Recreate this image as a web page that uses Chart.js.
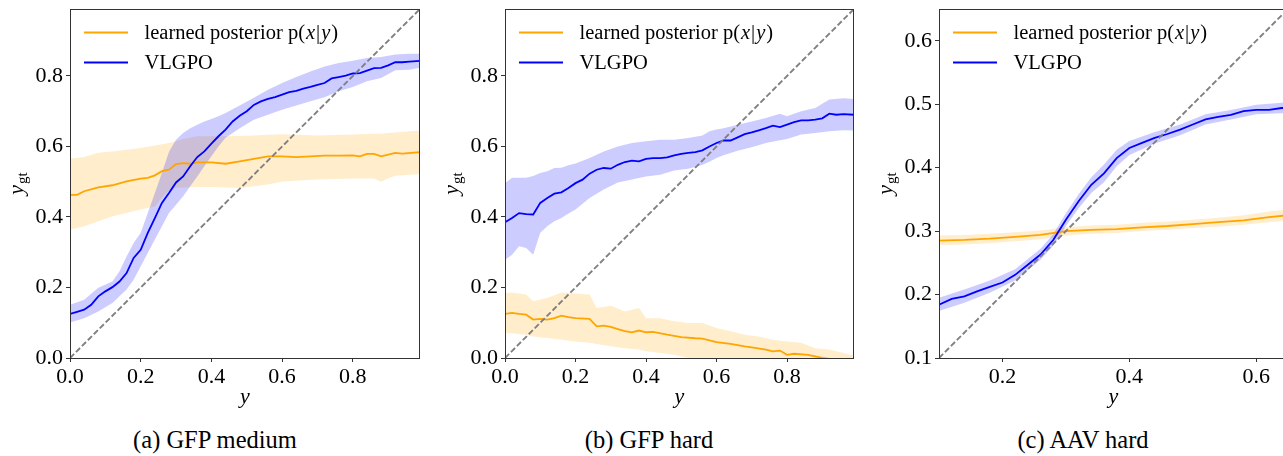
<!DOCTYPE html>
<html>
<head>
<meta charset="utf-8">
<script src="https://cdn.jsdelivr.net/npm/chart.js@4.4.1/dist/chart.umd.min.js"></script>
<style>
html,body{margin:0;padding:0;background:#fff;overflow:hidden;width:1283px;height:456px;}
.panel{position:absolute;top:0;}
.panel canvas{display:block;}
.cap{position:absolute;top:427px;height:26px;line-height:26px;font-family:'Liberation Serif','Times New Roman',serif;font-size:24.5px;color:#000;white-space:nowrap;transform:translateX(-50%);}
</style>
</head>
<body>
<div class="panel" style="left:0px"><canvas id="ca" width="430" height="420"></canvas></div>
<div class="panel" style="left:430px"><canvas id="cb" width="430" height="420"></canvas></div>
<div class="panel" style="left:860px"><canvas id="cc" width="440" height="420"></canvas></div>
<div class="cap" id="capA" style="left:215px"></div>
<div class="cap" id="capB" style="left:649px"></div>
<div class="cap" id="capC" style="left:1083px"></div>
<script>
// ---------------- captions / labels ----------------
const captions = ['(a) GFP medium', '(b) GFP hard', '(c) AAV hard'];
const xTitle = 'y';
const legendPosterior = [{t:'learned posterior p('},{t:'x',i:true,pre:1,post:1},{t:'|'},{t:'y',i:true,pre:1,post:1},{t:')'}];
const legendVlgpo = [{t:'VLGPO'}];

// ---------------- axis ranges & ticks ----------------
const rangeA = [0, 0.99];
const rangeB = [0, 0.99];
const rangeC = [0.1, 0.65];
const xTicksA = [0, 0.2, 0.4, 0.6, 0.8];
const yTicksA = [0, 0.2, 0.4, 0.6, 0.8];
const xTicksB = [0, 0.2, 0.4, 0.6, 0.8];
const yTicksB = [0, 0.2, 0.4, 0.6, 0.8];
const xTicksC = [0.2, 0.4, 0.6];
const yTicksC = [0.1, 0.2, 0.3, 0.4, 0.5, 0.6];

// ---------------- (a) GFP medium ----------------
const xA_vl = [0,0.02,0.04,0.06,0.08,0.1,0.12,0.14,0.16,0.18,0.2,0.22,0.24,0.26,0.28,0.3,0.32,0.34,0.36,0.38,0.4,0.42,0.44,0.46,0.48,0.5,0.52,0.54,0.56,0.58,0.6,0.62,0.64,0.66,0.68,0.7,0.72,0.74,0.76,0.78,0.8,0.82,0.84,0.86,0.88,0.9,0.92,0.94,0.96,0.99];
const yA_vl = [0.125,0.131,0.137,0.151,0.175,0.189,0.201,0.217,0.241,0.284,0.307,0.355,0.397,0.44,0.468,0.498,0.515,0.544,0.57,0.586,0.608,0.629,0.648,0.671,0.687,0.7,0.718,0.728,0.735,0.74,0.747,0.754,0.758,0.764,0.769,0.775,0.78,0.793,0.797,0.801,0.807,0.808,0.815,0.822,0.823,0.83,0.839,0.839,0.841,0.843];
const xA_vlBand = [0,0.04,0.08,0.12,0.14,0.16,0.18,0.2,0.22,0.24,0.26,0.28,0.3,0.32,0.34,0.36,0.38,0.4,0.42,0.44,0.48,0.52,0.56,0.6,0.64,0.68,0.72,0.76,0.8,0.84,0.88,0.92,0.96,0.99];
const yA_vlUp = [0.151,0.165,0.199,0.217,0.246,0.288,0.326,0.355,0.411,0.468,0.525,0.585,0.619,0.638,0.652,0.662,0.671,0.678,0.686,0.695,0.716,0.738,0.761,0.78,0.797,0.813,0.827,0.837,0.843,0.851,0.854,0.861,0.863,0.863];
const yA_vlLo = [0.101,0.113,0.132,0.156,0.175,0.194,0.222,0.26,0.298,0.336,0.374,0.411,0.435,0.459,0.487,0.515,0.544,0.572,0.6,0.625,0.652,0.676,0.69,0.704,0.716,0.728,0.74,0.757,0.769,0.785,0.794,0.816,0.818,0.823];
const xA_or = [0,0.02,0.04,0.08,0.12,0.16,0.2,0.22,0.24,0.26,0.28,0.3,0.32,0.34,0.36,0.4,0.44,0.48,0.52,0.56,0.6,0.64,0.68,0.72,0.76,0.8,0.82,0.84,0.86,0.88,0.92,0.94,0.99];
const yA_or = [0.463,0.463,0.473,0.484,0.49,0.501,0.509,0.511,0.518,0.53,0.534,0.55,0.553,0.551,0.555,0.555,0.551,0.558,0.565,0.572,0.572,0.57,0.572,0.574,0.574,0.575,0.572,0.579,0.579,0.572,0.582,0.58,0.584];
const xA_orBand = [0,0.04,0.08,0.12,0.2,0.24,0.26,0.28,0.3,0.32,0.36,0.4,0.44,0.48,0.52,0.56,0.6,0.7,0.8,0.86,0.88,0.9,0.92,0.99];
const yA_orUp = [0.565,0.57,0.582,0.586,0.596,0.603,0.606,0.61,0.615,0.621,0.629,0.629,0.629,0.63,0.631,0.633,0.635,0.631,0.634,0.636,0.636,0.638,0.64,0.645];
const yA_orLo = [0.364,0.374,0.388,0.402,0.421,0.43,0.455,0.475,0.484,0.484,0.485,0.485,0.484,0.482,0.487,0.492,0.501,0.506,0.509,0.509,0.5,0.51,0.517,0.522];

// ---------------- (b) GFP hard ----------------
const xB_vl = [0,0.02,0.04,0.06,0.08,0.1,0.12,0.14,0.16,0.18,0.2,0.22,0.24,0.26,0.28,0.3,0.32,0.34,0.36,0.38,0.4,0.42,0.44,0.46,0.48,0.5,0.52,0.54,0.56,0.58,0.6,0.62,0.64,0.66,0.68,0.7,0.72,0.74,0.76,0.78,0.8,0.82,0.84,0.86,0.88,0.9,0.92,0.94,0.96,0.99];
const yB_vl = [0.385,0.397,0.411,0.408,0.407,0.44,0.454,0.466,0.47,0.482,0.496,0.506,0.523,0.534,0.539,0.537,0.548,0.556,0.56,0.558,0.565,0.567,0.567,0.569,0.575,0.579,0.582,0.584,0.589,0.6,0.61,0.617,0.617,0.626,0.635,0.64,0.646,0.652,0.659,0.655,0.662,0.669,0.674,0.674,0.676,0.68,0.693,0.69,0.692,0.69];
const xB_vlBand = [0,0.02,0.04,0.06,0.08,0.1,0.12,0.14,0.16,0.18,0.2,0.24,0.28,0.32,0.36,0.4,0.44,0.48,0.52,0.56,0.58,0.6,0.62,0.66,0.7,0.74,0.78,0.8,0.84,0.88,0.92,0.96,0.99];
const yB_vlUp = [0.496,0.511,0.511,0.511,0.516,0.525,0.53,0.539,0.54,0.547,0.552,0.567,0.586,0.6,0.61,0.615,0.619,0.619,0.624,0.631,0.643,0.648,0.652,0.662,0.671,0.681,0.693,0.686,0.7,0.709,0.733,0.737,0.735];
const yB_vlLo = [0.279,0.293,0.317,0.312,0.293,0.355,0.374,0.388,0.397,0.41,0.421,0.454,0.478,0.498,0.506,0.515,0.52,0.532,0.537,0.548,0.557,0.567,0.575,0.588,0.598,0.61,0.618,0.621,0.634,0.638,0.643,0.646,0.645];
const xB_or = [0,0.02,0.04,0.06,0.08,0.1,0.12,0.14,0.16,0.18,0.2,0.24,0.26,0.28,0.3,0.32,0.34,0.36,0.38,0.4,0.42,0.46,0.5,0.54,0.56,0.6,0.64,0.68,0.7,0.74,0.76,0.78,0.8,0.82,0.86,0.9,0.94,0.99];
const yB_or = [0.125,0.128,0.125,0.123,0.109,0.111,0.109,0.113,0.12,0.116,0.113,0.111,0.09,0.092,0.088,0.082,0.076,0.073,0.078,0.073,0.074,0.066,0.059,0.056,0.055,0.045,0.04,0.033,0.03,0.024,0.019,0.021,0.009,0.012,0.009,0,-0.005,-0.01];
const xB_orBand = [0,0.02,0.06,0.08,0.12,0.16,0.2,0.24,0.26,0.3,0.34,0.38,0.4,0.44,0.48,0.52,0.56,0.6,0.64,0.68,0.72,0.76,0.8,0.84,0.88,0.92,0.96,0.99];
const yB_orUp = [0.184,0.186,0.18,0.161,0.17,0.186,0.183,0.18,0.142,0.148,0.132,0.142,0.113,0.113,0.104,0.099,0.099,0.085,0.076,0.066,0.061,0.052,0.047,0.043,0.028,0.024,0.014,0.007];
const yB_orLo = [0.071,0.07,0.066,0.061,0.057,0.052,0.047,0.043,0.04,0.033,0.028,0.024,0.019,0.014,0.009,0,-0.01,-0.02,-0.025,-0.03,-0.035,-0.04,-0.045,-0.05,-0.05,-0.05,-0.05,-0.05];

// ---------------- (c) AAV hard ----------------
const xC_vl = [0.1,0.12,0.14,0.16,0.18,0.2,0.22,0.24,0.26,0.28,0.3,0.32,0.34,0.36,0.38,0.4,0.42,0.44,0.46,0.48,0.5,0.52,0.54,0.56,0.58,0.6,0.62,0.64,0.65];
const yC_vl = [0.184,0.193,0.197,0.205,0.212,0.219,0.231,0.247,0.263,0.286,0.318,0.347,0.373,0.391,0.415,0.431,0.439,0.447,0.453,0.46,0.468,0.476,0.48,0.483,0.489,0.491,0.491,0.494,0.494];
const xC_vlBand = [0.1,0.14,0.18,0.22,0.26,0.28,0.3,0.32,0.34,0.36,0.38,0.4,0.44,0.48,0.52,0.56,0.6,0.65];
const yC_vlUp = [0.195,0.208,0.222,0.24,0.272,0.295,0.328,0.358,0.385,0.405,0.428,0.442,0.456,0.468,0.484,0.491,0.499,0.503];
const yC_vlLo = [0.174,0.187,0.203,0.222,0.255,0.277,0.308,0.336,0.36,0.377,0.402,0.42,0.438,0.451,0.468,0.476,0.484,0.486];
const xC_or = [0.1,0.14,0.18,0.22,0.26,0.3,0.34,0.38,0.42,0.46,0.5,0.54,0.58,0.62,0.65];
const yC_or = [0.285,0.286,0.288,0.291,0.294,0.3,0.302,0.303,0.306,0.308,0.311,0.314,0.317,0.322,0.325];
const xC_orBand = [0.1,0.14,0.18,0.22,0.26,0.3,0.34,0.38,0.42,0.46,0.5,0.54,0.58,0.62,0.65];
const yC_orUp = [0.293,0.294,0.296,0.298,0.301,0.306,0.309,0.31,0.313,0.315,0.318,0.321,0.325,0.331,0.334];
const yC_orLo = [0.278,0.279,0.281,0.284,0.287,0.293,0.296,0.297,0.3,0.302,0.305,0.307,0.31,0.314,0.317];

// ---------------- drawing ----------------
const FONT = "'Liberation Serif', 'Times New Roman', serif";
const ORANGE = '#ffa500', BLUE = '#0000ff';
function pts(xs, ys){ return xs.map((x, i) => ({x: x, y: ys[i]})); }

const framePlugin = {
  id: 'frame',
  afterDatasetsDraw(chart){
    const {ctx, chartArea: a} = chart;
    ctx.save();
    ctx.strokeStyle = '#333'; ctx.lineWidth = 1;
    ctx.strokeRect(Math.round(a.left) + 0.5, Math.round(a.top) + 0.5, Math.round(a.right - a.left) - 1, Math.round(a.bottom - a.top));
    ctx.restore();
  }
};
const legendPlugin = {
  id: 'mlegend',
  afterDraw(chart){
    const {ctx, chartArea: a} = chart;
    const rows = [{color: ORANGE, parts: legendPosterior}, {color: BLUE, parts: legendVlgpo}];
    ctx.save();
    rows.forEach((r, i) => {
      const yy = Math.round(a.top + 23) + 0.5 + i * 30;
      ctx.strokeStyle = r.color; ctx.lineWidth = 1.8;
      ctx.beginPath(); ctx.moveTo(a.left + 14, yy); ctx.lineTo(a.left + 58, yy); ctx.stroke();
      let x = a.left + 74.5;
      ctx.fillStyle = '#000'; ctx.textBaseline = 'middle'; ctx.textAlign = 'left';
      r.parts.forEach(p => {
        ctx.font = (p.i ? 'italic ' : '') + '20.5px ' + FONT;
        x += (p.pre || 0);
        ctx.fillText(p.t, x, yy + 1);
        x += ctx.measureText(p.t).width + (p.post || 0);
      });
    });
    ctx.restore();
  }
};
const yTitlePlugin = {
  id: 'ytitle',
  afterDraw(chart){
    const {ctx, chartArea: a} = chart;
    ctx.save();
    ctx.translate(a.left - 47, (a.top + a.bottom) / 2);
    ctx.rotate(-Math.PI / 2);
    ctx.fillStyle = '#000'; ctx.textBaseline = 'alphabetic'; ctx.textAlign = 'left';
    ctx.font = 'italic 22px ' + FONT; const w1 = ctx.measureText('y').width;
    ctx.font = '15px ' + FONT; const w2 = ctx.measureText('gt').width;
    const x0 = -(w1 + w2 + 1) / 2;
    ctx.font = 'italic 22px ' + FONT; ctx.fillText('y', x0, 0);
    ctx.font = '15px ' + FONT; ctx.fillText('gt', x0 + w1 + 1, 4);
    ctx.restore();
  }
};

function makePanel(id, p){
  const tickFont = {family: FONT, size: 22};
  const gridOpt = {display: true, drawOnChartArea: false, drawTicks: true, tickLength: 4, tickColor: '#333', tickWidth: 1};
  return new Chart(document.getElementById(id), {
    type: 'line',
    data: {datasets: [
      {data: pts(p.range, p.range), borderColor: '#808080', borderWidth: 1.9, borderDash: [5.8, 2.6], pointRadius: 0, fill: false},
      {data: pts(p.vlX, p.vlY), borderColor: BLUE, borderWidth: 1.8, pointRadius: 0, fill: false},
      {data: pts(p.orX, p.orY), borderColor: ORANGE, borderWidth: 1.8, pointRadius: 0, fill: false},
      {data: pts(p.vlBX, p.vlU), borderColor: 'rgba(0,0,0,0)', borderWidth: 0, pointRadius: 0, backgroundColor: 'rgba(0,0,255,0.2)', fill: '+1'},
      {data: pts(p.vlBX, p.vlL), borderColor: 'rgba(0,0,0,0)', borderWidth: 0, pointRadius: 0, fill: false},
      {data: pts(p.orBX, p.orU), borderColor: 'rgba(0,0,0,0)', borderWidth: 0, pointRadius: 0, backgroundColor: 'rgba(255,165,0,0.2)', fill: '+1'},
      {data: pts(p.orBX, p.orL), borderColor: 'rgba(0,0,0,0)', borderWidth: 0, pointRadius: 0, fill: false}
    ]},
    options: {
      responsive: false, animation: false, devicePixelRatio: 1,
      layout: {padding: {left: 0, right: p.padR, top: 9, bottom: 8}},
      plugins: {legend: {display: false}, tooltip: {enabled: false}},
      scales: {
        x: {
          type: 'linear', min: p.range[0], max: p.range[1],
          afterBuildTicks: s => { s.ticks = p.xTicks.map(v => ({value: v})); },
          afterFit: s => { s.height = 54; s.paddingLeft = 0; s.paddingRight = 0; },
          ticks: {font: tickFont, color: '#000', padding: 2, maxRotation: 0, autoSkip: false, callback: v => Number(v).toFixed(1)},
          grid: gridOpt, border: {display: false},
          title: {display: true, text: xTitle, color: '#000', font: {family: FONT, size: 22, style: 'italic'}, padding: {top: 0, bottom: 2}}
        },
        y: {
          type: 'linear', min: p.range[0], max: p.range[1],
          afterBuildTicks: s => { s.ticks = p.yTicks.map(v => ({value: v})); },
          afterFit: s => { s.width = p.yW; s.paddingTop = 0; s.paddingBottom = 0; },
          ticks: {font: tickFont, color: '#000', padding: 3, autoSkip: false, callback: v => Number(v).toFixed(1)},
          grid: gridOpt, border: {display: false}
        }
      }
    },
    plugins: [framePlugin, legendPlugin, yTitlePlugin]
  });
}

makePanel('ca', {range: rangeA, xTicks: xTicksA, yTicks: yTicksA, yW: 70, padR: 10,
  vlX: xA_vl, vlY: yA_vl, vlBX: xA_vlBand, vlU: yA_vlUp, vlL: yA_vlLo,
  orX: xA_or, orY: yA_or, orBX: xA_orBand, orU: yA_orUp, orL: yA_orLo});
makePanel('cb', {range: rangeB, xTicks: xTicksB, yTicks: yTicksB, yW: 75, padR: 6,
  vlX: xB_vl, vlY: yB_vl, vlBX: xB_vlBand, vlU: yB_vlUp, vlL: yB_vlLo,
  orX: xB_or, orY: yB_or, orBX: xB_orBand, orU: yB_orUp, orL: yB_orLo});
makePanel('cc', {range: rangeC, xTicks: xTicksC, yTicks: yTicksC, yW: 79, padR: 12,
  vlX: xC_vl, vlY: yC_vl, vlBX: xC_vlBand, vlU: yC_vlUp, vlL: yC_vlLo,
  orX: xC_or, orY: yC_or, orBX: xC_orBand, orU: yC_orUp, orL: yC_orLo});

document.getElementById('capA').textContent = captions[0];
document.getElementById('capB').textContent = captions[1];
document.getElementById('capC').textContent = captions[2];
</script>
</body>
</html>
